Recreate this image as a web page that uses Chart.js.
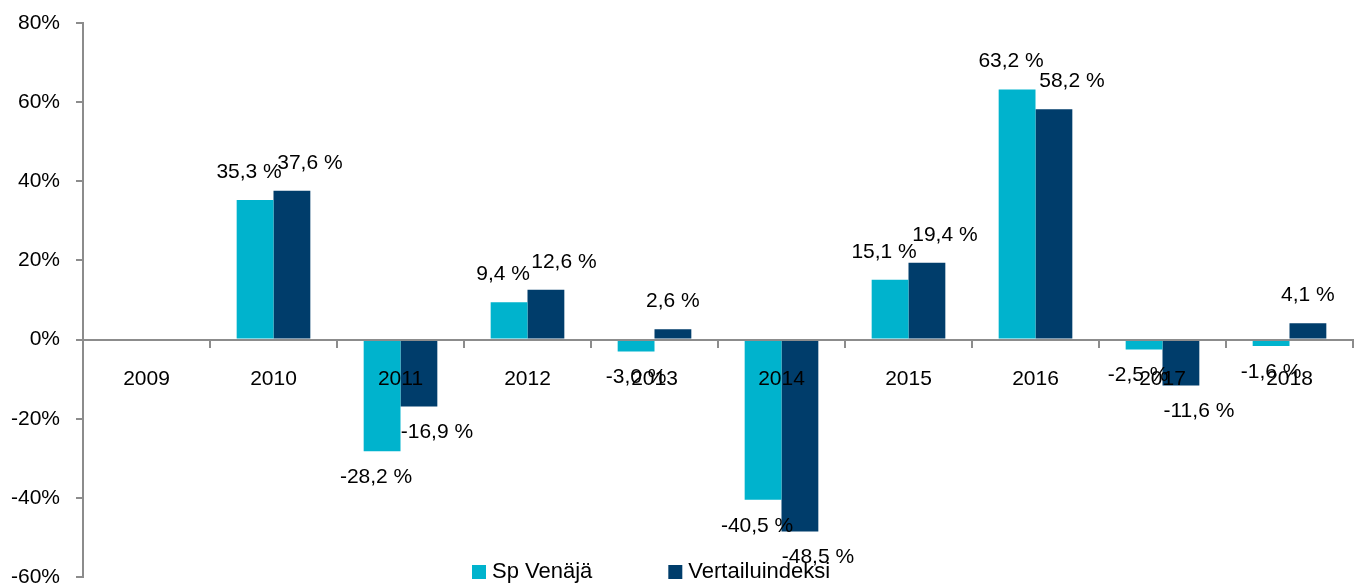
<!DOCTYPE html>
<html>
<head>
<meta charset="utf-8">
<script src="https://cdn.jsdelivr.net/npm/chart.js@4/dist/chart.umd.min.js"></script>
<style>
html,body{margin:0;padding:0;background:#fff;}
#wrap{width:1362px;height:585px;position:relative;}
</style>
</head>
<body>
<div id="wrap"><canvas id="c" width="1362" height="585"></canvas></div>
<script>
const categories = ['2009','2010','2011','2012','2013','2014','2015','2016','2017','2018'];
const spVenaja = [null, 35.3, -28.2, 9.4, -3.0, -40.5, 15.1, 63.2, -2.5, -1.6];
const vertailuindeksi = [null, 37.6, -16.9, 12.6, 2.6, -48.5, 19.4, 58.2, -11.6, 4.1];
const seriesNames = ['Sp Venäjä', 'Vertailuindeksi'];
const yMin = -60, yMax = 80, yStep = 20;

const FONT = '"Liberation Sans", Arial, sans-serif';
const AXIS_GREY = '#8c8c8c';
const COLORS = ['#00B3CD', '#003D6B'];

const dataLabelPlugin = {
  id: 'barValues',
  afterDatasetsDraw(chart) {
    const ctx = chart.ctx;
    ctx.save();
    ctx.font = '21px ' + FONT;
    ctx.fillStyle = '#000';
    ctx.textAlign = 'center';
    ctx.textBaseline = 'middle';
    chart.data.datasets.forEach((ds, di) => {
      const meta = chart.getDatasetMeta(di);
      meta.data.forEach((bar, i) => {
        const v = ds.data[i];
        if (v == null) return;
        const other = chart.data.datasets[1 - di].data[i];
        const same = other != null && Math.sign(other) === Math.sign(v);
        const dx = same ? (di === 0 ? -6 : 18) : 0;
        const y = v >= 0 ? bar.y - 28 : bar.y + 26;
        ctx.fillText(v.toFixed(1).replace('.', ',') + ' %', bar.x + dx, y);
      });
    });
    ctx.restore();
  }
};

const legendPlugin = {
  id: 'bottomLegend',
  afterDraw(chart) {
    const ctx = chart.ctx;
    ctx.save();
    ctx.font = '22px ' + FONT;
    ctx.textBaseline = 'middle';
    ctx.textAlign = 'left';
    let x = 472;
    const yc = 572;
    chart.data.datasets.forEach((ds, di) => {
      ctx.fillStyle = ds.backgroundColor;
      ctx.fillRect(x, yc - 7, 14, 14);
      ctx.fillStyle = '#000';
      ctx.fillText(ds.label, x + 20, yc);
      x += 20 + ctx.measureText(ds.label).width + 76;
    });
    ctx.restore();
  }
};

new Chart(document.getElementById('c'), {
  type: 'bar',
  data: {
    labels: categories,
    datasets: [
      { label: seriesNames[0], data: spVenaja, backgroundColor: COLORS[0], borderWidth: 0 },
      { label: seriesNames[1], data: vertailuindeksi, backgroundColor: COLORS[1], borderWidth: 0 }
    ]
  },
  options: {
    responsive: false,
    animation: false,
    devicePixelRatio: 1,
    layout: { padding: { left: 0, right: 9, top: 23, bottom: 8 } },
    datasets: { bar: { barPercentage: 1.0, categoryPercentage: 0.58 } },
    plugins: { legend: { display: false }, tooltip: { enabled: false } },
    scales: {
      x: {
        position: { y: 0 },
        grid: { display: true, offset: true, drawOnChartArea: false, drawTicks: true, tickLength: 7, color: AXIS_GREY, lineWidth: 2, z: 1 },
        border: { display: true, color: AXIS_GREY, width: 2, z: 1 },
        ticks: { z: 1, color: '#000', font: { family: FONT, size: 21 }, padding: 20, maxRotation: 0, autoSkip: false }
      },
      y: {
        min: yMin, max: yMax,
        afterFit(scale) { scale.width = 83; scale.paddingTop = 0; scale.paddingBottom = 0; },
        grid: { display: true, drawOnChartArea: false, drawTicks: true, tickLength: 7, color: AXIS_GREY, lineWidth: 2 },
        border: { display: true, color: AXIS_GREY, width: 2 },
        ticks: { stepSize: yStep, color: '#000', font: { family: FONT, size: 21 }, padding: 16, callback: v => v + '%' }
      }
    }
  },
  plugins: [dataLabelPlugin, legendPlugin]
});
</script>
</body>
</html>
